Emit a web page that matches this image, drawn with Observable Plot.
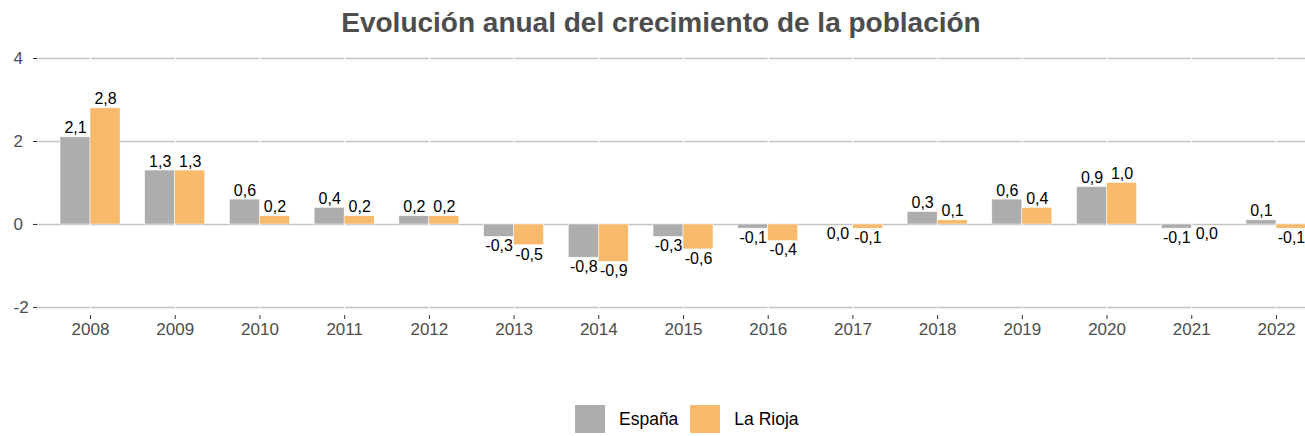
<!DOCTYPE html>
<html>
<head>
<meta charset="utf-8">
<script src="https://cdn.jsdelivr.net/npm/d3@7"></script>
<script src="https://cdn.jsdelivr.net/npm/@observablehq/plot@0.6"></script>
<style>
  html, body { margin: 0; padding: 0; background: #fff; overflow: hidden; }
  #wrap { position: relative; width: 1305px; height: 436px; overflow: hidden; font-family: "Liberation Sans", Arial, sans-serif; }
  #title { position: absolute; top: 9px; left: 0; width: 1322px; text-align: center; font-size: 28px; line-height: 28px; font-weight: bold; color: #4d4d4d; white-space: nowrap; }
  #chart { position: absolute; top: 44px; left: 0; width: 1329px; }
  #chart svg { max-width: none !important; }
  #legend { position: absolute; top: 405px; left: 575px; display: flex; align-items: center; height: 28px; font-size: 17.5px; color: #000; }
  .key { width: 30px; height: 28px; display: inline-block; }
  .lab { margin-left: 14px; margin-right: 12px; }
</style>
</head>
<body>
<div id="wrap">
  <div id="title">Evolución anual del crecimiento de la población</div>
  <div id="chart"></div>
  <div id="legend"></div>
</div>
<script>
const years = [2008, 2009, 2010, 2011, 2012, 2013, 2014, 2015, 2016, 2017, 2018, 2019, 2020, 2021, 2022];
const espana = [2.1, 1.3, 0.6, 0.4, 0.2, -0.3, -0.8, -0.3, -0.1, 0.0, 0.3, 0.6, 0.9, -0.1, 0.1];
const rioja  = [2.8, 1.3, 0.2, 0.2, 0.2, -0.5, -0.9, -0.6, -0.4, -0.1, 0.1, 0.4, 1.0, 0.0, -0.1];
const series = ["España", "La Rioja"];
const colors = ["#ADADAD", "#F7B96B"];
const yTicks = [-2, 0, 2, 4];

const data = years.flatMap((y, i) => [
  {year: y, serie: series[0], value: espana[i]},
  {year: y, serie: series[1], value: rioja[i]}
]);
const fmt = v => v.toFixed(1).replace("-0.0", "0.0").replace(".", ",");

const W = 1329, ML = 37, MR = 0, PO = 0.126;
const step = (W - ML - MR) / (years.length + 2 * PO);
const barW = 30;
const side = (step - 2 * barW) / 2;          // gap at each side of a year group
const off = [-barW / 2, barW / 2];           // label offset from year centre

const marks = [
  Plot.ruleY(yTicks, {stroke: "#c4c4c4", strokeWidth: 1.6}),
  Plot.ruleX(years, {x: d => d, stroke: "white", strokeWidth: 1.2}),
  Plot.axisY({ticks: yTicks, tickSize: 4, tickPadding: 20, textAnchor: "start", fontSize: 17, fill: "#4d4d4d", stroke: "#333", tickFormat: d => String(d), label: null}),
  Plot.axisX({tickSize: 4, tickPadding: 3, fontSize: 17, fill: "#4d4d4d", stroke: "#333", label: null, tickFormat: d => String(d)})
];
series.forEach((s, i) => {
  const rows = data.filter(d => d.serie === s);
  marks.push(
    Plot.barY(rows, {x: "year", y: "value", fill: "serie", stroke: "white", strokeWidth: 0.5,
      insetLeft: i === 0 ? side : side + barW, insetRight: i === 0 ? side + barW : side}),
    Plot.text(rows.filter(d => d.value > 0), {x: "year", y: "value", dx: off[i], text: d => fmt(d.value), lineAnchor: "bottom", dy: -4, fontSize: 16, fill: "#000"}),
    Plot.text(rows.filter(d => d.value <= 0), {x: "year", y: "value", dx: off[i], text: d => fmt(d.value), lineAnchor: "top", dy: 3, fontSize: 16, fill: "#000"})
  );
});

const chart = Plot.plot({
  width: W,
  height: 300,
  marginLeft: ML,
  marginRight: MR,
  marginTop: 6,
  marginBottom: 29,
  style: {fontFamily: "'Liberation Sans', Arial, sans-serif", background: "transparent", overflow: "visible", maxWidth: "none"},
  x: {type: "band", domain: years, paddingInner: 0, paddingOuter: PO, round: false, axis: null},
  y: {domain: [-2.193, 4.193], axis: null},
  color: {domain: series, range: colors},
  marks
});
document.getElementById("chart").appendChild(chart);

const legend = document.getElementById("legend");
series.forEach((s, i) => {
  const k = document.createElement("span");
  k.className = "key";
  k.style.background = colors[i];
  const t = document.createElement("span");
  t.className = "lab";
  t.textContent = s;
  legend.appendChild(k);
  legend.appendChild(t);
});
</script>
</body>
</html>
